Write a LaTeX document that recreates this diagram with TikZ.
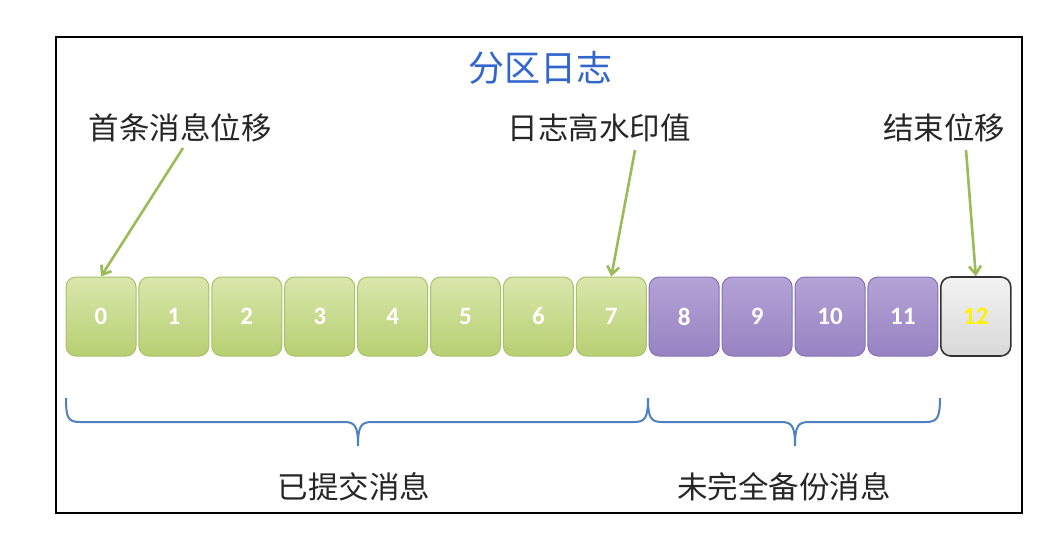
\documentclass[tikz,border=0pt]{standalone}
\usepackage{fontspec}
\setmainfont{Carlito}
\newfontfamily\cjk{Noto Sans CJK SC}
\usetikzlibrary{arrows.meta}
\definecolor{gtop}{HTML}{D9E7AC}
\definecolor{gbot}{HTML}{B7CF72}
\definecolor{gdraw}{HTML}{A8C268}
\definecolor{ptop}{HTML}{B3A3D6}
\definecolor{pbot}{HTML}{9883C2}
\definecolor{pdraw}{HTML}{8672B2}
\definecolor{arrowgreen}{HTML}{9BBB59}
\definecolor{braceblue}{HTML}{4F81BD}
\definecolor{titleblue}{HTML}{3366CC}
\tikzset{
  cell/.style={minimum width=70pt, minimum height=79pt, rounded corners=10pt, inner sep=0pt,
    font=\fontsize{25}{27}\selectfont\bfseries, text=white},
  greencell/.style={cell, draw=gdraw, line width=1pt, top color=gtop, bottom color=gbot},
  purplecell/.style={cell, draw=pdraw, line width=1pt, top color=ptop, bottom color=pbot},
  graycell/.style={cell, draw=black!80, line width=1.6pt, top color=black!5, bottom color=black!15, text=yellow},
  lbl/.style={font=\cjk\fontsize{30.5}{32}\selectfont, text=black!85, inner sep=0pt},
  pointer/.style={draw=arrowgreen, line width=2.6pt, -{Straight Barb[length=8pt,width=12pt,line width=2.6pt]}},
  bracestyle/.style={draw=braceblue, line width=2pt}
}
\begin{document}
\begin{tikzpicture}[x=1pt,y=-1pt]
\useasboundingbox[fill=white] (0,0) rectangle (1044,539);
\draw[line width=2.4pt, black] (56,37) rectangle (1022,513);
\node[font=\cjk\fontsize{36}{38}\selectfont, text=titleblue, inner sep=0pt] (title) at (540,68) {分区日志};
\foreach \i in {0,...,7} {
  \node[greencell] (b\i) at ({101+72.9*\i},316.5) {\i};
}
\foreach \i in {8,...,11} {
  \node[purplecell] (b\i) at ({101+72.9*\i},316.5) {\i};
}
\node[graycell] (b12) at ({101+72.9*12},316.5) {12};
\node[lbl] (l1) at (180,128) {首条消息位移};
\node[lbl] (l2) at (599,128) {日志高水印值};
\node[lbl] (l3) at (944,128) {结束位移};
\coordinate (s1) at (183,148);
\coordinate (s2) at (635,150);
\coordinate (s3) at (966,150);
\draw[pointer] (s1) -- (b0.north);
\draw[pointer] (s2) -- (b7.north);
\draw[pointer] (s3) -- (b12.north);
% braces
\coordinate (bl) at (66,398);
\coordinate (bm) at (648,398);
\coordinate (br) at (940,398);
\coordinate (t1) at (358,446);
\coordinate (t2) at (795,446);
\draw[bracestyle] (bl) .. controls (66,418) and (68,422) .. (80,422) -- (344,422)
  .. controls (355,422) and (358,426) .. (t1)
  .. controls (358,426) and (361,422) .. (372,422) -- (634,422)
  .. controls (645,422) and (648,418) .. (bm);
\draw[bracestyle] (bm) .. controls (648,418) and (651,422) .. (662,422) -- (781,422)
  .. controls (792,422) and (795,426) .. (t2)
  .. controls (795,426) and (798,422) .. (809,422) -- (926,422)
  .. controls (937,422) and (940,418) .. (br);
\node[lbl] (c1) at (354,487) {已提交消息};
\node[lbl] (c2) at (784,487) {未完全备份消息};
\end{tikzpicture}
\end{document}
